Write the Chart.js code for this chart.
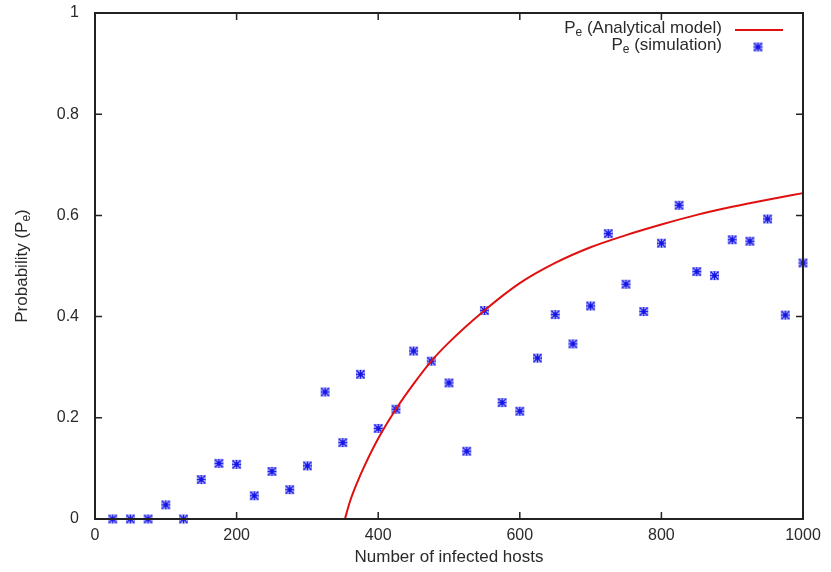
<!DOCTYPE html>
<html>
<head>
<meta charset="utf-8">
<script src="https://cdn.jsdelivr.net/npm/chart.js@4"></script>
<style>
  body { margin: 0; background: #fff; }
  canvas { display: block; }
</style>
</head>
<body>
<canvas id="chart" width="831" height="572"></canvas>
<script>
// simulation points
const simHosts = [25, 50, 75, 100, 125, 150, 175, 200, 225, 250, 275, 300, 325, 350, 375, 400, 425, 450, 475, 500,
    525, 550, 575, 600, 625, 650, 675, 700, 725, 750, 775, 800, 825, 850, 875, 900, 925, 950, 975, 1000];
const simProb = [0, 0, 0, 0.028, 0, 0.078, 0.110, 0.108, 0.046, 0.094, 0.058, 0.105, 0.251, 0.151, 0.286, 0.179, 0.217, 0.332, 0.312, 0.269,
    0.134, 0.412, 0.230, 0.213, 0.318, 0.404, 0.346, 0.421, 0.564, 0.464, 0.410, 0.545, 0.620, 0.489, 0.481, 0.552, 0.549, 0.593, 0.403, 0.506];

// analytical model curve
const modelHosts = [353, 360, 370, 380, 400, 425, 450, 475, 500, 550, 600, 650, 700, 750, 800, 850, 900, 950, 1000];
const modelProb = [0, 0.034, 0.071, 0.103, 0.159, 0.217, 0.267, 0.312, 0.349, 0.412, 0.466, 0.506, 0.537, 0.561, 0.582, 0.601, 0.617, 0.631, 0.644];

const xTicks = [0, 200, 400, 600, 800, 1000];
const yTicks = [0, 0.2, 0.4, 0.6, 0.8, 1];

const FONT = 'Liberation Sans, Arial, sans-serif';
const TEXT = '#2a2a2a';
const BLUE = '#1414e6';
const RED = '#e01010';

// gnuplot-like asterisk marker
const star = document.createElement('canvas');
star.width = 11; star.height = 11;
(() => {
    const c = star.getContext('2d');
    c.strokeStyle = BLUE;
    c.lineWidth = 1.6;
    c.beginPath();
    c.moveTo(1.5, 1.5); c.lineTo(9.5, 9.5);
    c.moveTo(9.5, 1.5); c.lineTo(1.5, 9.5);
    c.moveTo(5.5, 1); c.lineTo(5.5, 10);
    c.moveTo(1, 5.5); c.lineTo(10, 5.5);
    c.stroke();
    c.strokeStyle = 'rgba(40,40,240,0.45)';
    c.lineWidth = 1;
    c.strokeRect(1.5, 1.5, 8, 8);
})();

// text with subscript helper
const drawSub = (ctx, x, y, parts, align) => {
    let total = 0;
    parts.forEach(p => {
        ctx.font = (p[1] ? '12px ' : '17px ') + FONT;
        total += ctx.measureText(p[0]).width;
    });
    let cx = align === 'right' ? x - total : (align === 'center' ? x - total / 2 : x);
    ctx.textAlign = 'left';
    ctx.textBaseline = 'middle';
    parts.forEach(p => {
        ctx.font = (p[1] ? '12px ' : '17px ') + FONT;
        ctx.fillText(p[0], cx, p[1] ? y + 5 : y);
        cx += ctx.measureText(p[0]).width;
    });
}

const framePlugin = {
    id: 'frame',
    afterDraw(chart) {
        const ctx = chart.ctx;
        const a = chart.chartArea;
        const xs = chart.scales.x, ys = chart.scales.y;
        ctx.save();
        ctx.strokeStyle = '#222';
        ctx.lineWidth = 2;
        ctx.strokeRect(a.left, a.top, a.right - a.left, a.bottom - a.top);
        ctx.lineWidth = 1.5;
        ctx.beginPath();
        xTicks.forEach(v => {
            let px = xs.getPixelForValue(v);
            ctx.moveTo(px, a.bottom); ctx.lineTo(px, a.bottom - 7);
            ctx.moveTo(px, a.top); ctx.lineTo(px, a.top + 7);
        });
        yTicks.forEach(v => {
            let py = ys.getPixelForValue(v);
            ctx.moveTo(a.left, py); ctx.lineTo(a.left + 7, py);
            ctx.moveTo(a.right, py); ctx.lineTo(a.right - 7, py);
        });
        ctx.stroke();

        // y title
        ctx.fillStyle = TEXT;
        ctx.translate(22, (a.top + a.bottom) / 2);
        ctx.rotate(-Math.PI / 2);
        drawSub(ctx, 0, 0, [['Probability (P', false], ['e', true], [')', false]], 'center');
        ctx.setTransform(1, 0, 0, 1, 0, 0);

        // legend
        drawSub(ctx, 722, 28, [['P', false], ['e', true], [' (Analytical model)', false]], 'right');
        drawSub(ctx, 722, 45, [['P', false], ['e', true], [' (simulation)', false]], 'right');
        ctx.strokeStyle = RED;
        ctx.lineWidth = 2;
        ctx.beginPath();
        ctx.moveTo(735, 30); ctx.lineTo(783, 30);
        ctx.stroke();
        ctx.drawImage(star, 758 - 5.5, 47 - 5.5);
        ctx.restore();
    }
};

new Chart(document.getElementById('chart').getContext('2d'), {
    type: 'scatter',
    data: {
        datasets: [{
            label: 'Pe (Analytical model)',
            data: modelHosts.map((h, i) => ({x: h, y: modelProb[i]})),
            showLine: true,
            borderColor: RED,
            borderWidth: 2,
            pointRadius: 0,
            cubicInterpolationMode: 'monotone',
            fill: false
        }, {
            label: 'Pe (simulation)',
            data: simHosts.map((h, i) => ({x: h, y: simProb[i]})),
            showLine: false,
            pointStyle: star,
            pointRadius: 5
        }]
    },
    options: {
        responsive: false,
        animation: false,
        clip: false,
        layout: { padding: { top: 13, right: 28, left: 0, bottom: 0 } },
        plugins: { legend: { display: false }, tooltip: { enabled: false } },
        scales: {
            x: {
                type: 'linear', min: 0, max: 1000,
                afterBuildTicks: s => { s.ticks = xTicks.map(v => ({value: v})) },
                afterFit: s => { s.height = 53; s.paddingLeft = 0; s.paddingRight = 0 },
                grid: { display: false, drawTicks: false },
                border: { display: false },
                ticks: { color: TEXT, font: { family: FONT, size: 16 }, padding: 7, callback: v => String(v) },
                title: { display: true, text: 'Number of infected hosts', color: TEXT, font: { family: FONT, size: 17 }, padding: { top: 1 } }
            },
            y: {
                min: 0, max: 1,
                afterBuildTicks: s => { s.ticks = yTicks.map(v => ({value: v})) },
                afterFit: s => { s.width = 95; s.paddingTop = 0; s.paddingBottom = 0 },
                grid: { display: false, drawTicks: false },
                border: { display: false },
                ticks: { color: TEXT, font: { family: FONT, size: 16 }, padding: 16, callback: v => String(v) }
            }
        }
    },
    plugins: [framePlugin]
});
</script>
</body>
</html>
